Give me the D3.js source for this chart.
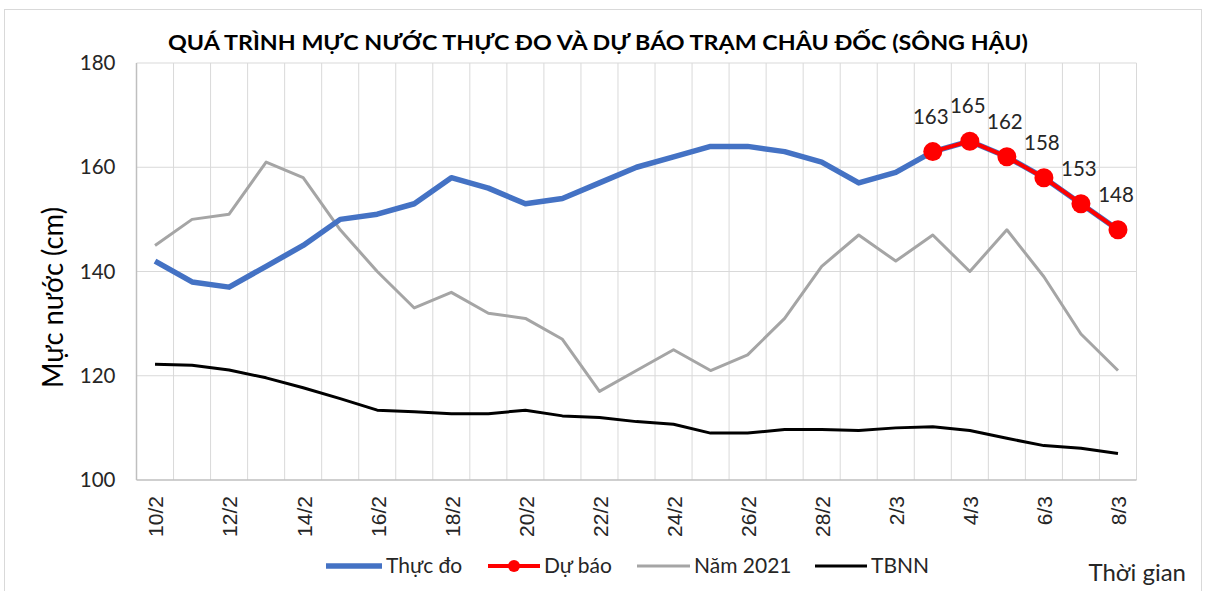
<!DOCTYPE html>
<html><head><meta charset="utf-8">
<script src="https://cdn.jsdelivr.net/npm/d3@7"></script>
<style>body{margin:0;background:#fff;}svg{display:block;font-family:Lato,"Open Sans",sans-serif;}</style>
</head><body><svg id="c" width="1207" height="591"></svg>
<script>
const dates = ["10/2","11/2","12/2","13/2","14/2","15/2","16/2","17/2","18/2","19/2","20/2","21/2","22/2","23/2","24/2","25/2","26/2","27/2","28/2","1/3","2/3","3/3","4/3","5/3","6/3","7/3","8/3"];
const thucDo = [142,138,137,141,145,150,151,153,158,156,153,154,157,160,162,164,164,163,161,157,159,163,165,162,158,153,148];
const duBao = [null,null,null,null,null,null,null,null,null,null,null,null,null,null,null,null,null,null,null,null,null,163,165,162,158,153,148];
const nam2021 = [145,150,151,161,158,148,140,133,136,132,131,127,117,121,125,121,124,131,141,147,142,147,140,148,139,128,121];
const tbnn = [122.2,122.0,121.1,119.6,117.7,115.6,113.4,113.1,112.7,112.7,113.4,112.3,112.0,111.2,110.7,109.0,109.0,109.7,109.7,109.5,110.0,110.2,109.5,108.0,106.6,106.1,105.1];
const yTicks = [100,120,140,160,180];
const title = "QUÁ TRÌNH MỰC NƯỚC THỰC ĐO VÀ DỰ BÁO TRẠM CHÂU ĐỐC (SÔNG HẬU)";
const legendNames = ["Thực đo","Dự báo","Năm 2021","TBNN"];

const svg = d3.select("#c");
const L=136.5,R=1136.5,T=63,B=480;
const x = d3.scaleBand().domain(dates).range([L,R]).padding(0);
const y = d3.scaleLinear().domain([100,180]).range([B,T]);
const cx = d => x(d)+x.bandwidth()/2;

// outer frame
svg.append("rect").attr("x",4.5).attr("y",9.5).attr("width",1197).attr("height",590).attr("fill","none").attr("stroke","#d9d9d9");

// gridlines
const g = svg.append("g");
g.selectAll(".vg").data(dates.slice(1).concat(["__end"])).join("line")
  .attr("x1",(d,i)=> i<dates.length-1 ? x(d) : R).attr("x2",(d,i)=> i<dates.length-1 ? x(d) : R)
  .attr("y1",T).attr("y2",B).attr("stroke","#d9d9d9").attr("stroke-width",1);
g.selectAll(".hg").data(yTicks.slice(1)).join("line")
  .attr("x1",L).attr("x2",R).attr("y1",d=>y(d)).attr("y2",d=>y(d)).attr("stroke","#d9d9d9");
// axes lines
svg.append("line").attr("x1",L).attr("x2",R).attr("y1",B).attr("y2",B).attr("stroke","#bfbfbf").attr("stroke-width",1.5);
svg.append("line").attr("x1",L).attr("x2",L).attr("y1",T).attr("y2",B).attr("stroke","#bfbfbf").attr("stroke-width",1.5);

// y axis
const ya = svg.append("g").attr("transform",`translate(${L},0)`).call(d3.axisLeft(y).tickValues(yTicks).tickSize(0).tickPadding(21));
ya.select(".domain").remove();
ya.selectAll("text").attr("font-size",20.5).attr("fill","#262626").attr("font-family","Lato");

// x axis
const xa = svg.append("g").attr("transform",`translate(0,${B})`).call(d3.axisBottom(x).tickValues(dates.filter((d,i)=>i%2===0)).tickSize(0));
xa.select(".domain").remove();
xa.selectAll("text").attr("font-size",21).attr("fill","#262626").attr("text-anchor","end")
  .attr("transform","rotate(-90)").attr("x",-16).attr("y",1).attr("dy","0.35em");

// titles
svg.append("text").attr("x",598).attr("y",50).attr("text-anchor","middle").attr("font-weight","bold").attr("font-size",21).attr("fill","#000").text(title)
  .attr("textLength",860).attr("lengthAdjust","spacingAndGlyphs");
svg.append("text").attr("transform","translate(53,297.5) rotate(-90)").attr("text-anchor","middle").attr("dy","0.35em").attr("font-size",28).attr("fill","#000").text("Mực nước (cm)")
  .attr("textLength",181).attr("lengthAdjust","spacingAndGlyphs");
svg.append("text").attr("x",1186).attr("y",581).attr("text-anchor","end").attr("font-size",24).attr("fill","#262626").text("Thời gian");

// lines
const line = d3.line().defined(d=>d[1]!=null).x(d=>cx(d[0])).y(d=>y(d[1]));
const ser = (arr)=>dates.map((d,i)=>[d,arr[i]]);
svg.append("path").attr("d",line(ser(nam2021))).attr("fill","none").attr("stroke","#a5a5a5").attr("stroke-width",3).attr("stroke-linejoin","round");
svg.append("path").attr("d",line(ser(tbnn))).attr("fill","none").attr("stroke","#000").attr("stroke-width",3).attr("stroke-linejoin","round");
svg.append("path").attr("d",line(ser(thucDo))).attr("fill","none").attr("stroke","#4472c4").attr("stroke-width",5.5).attr("stroke-linejoin","round");
svg.append("path").attr("d",line(ser(duBao))).attr("fill","none").attr("stroke","#ff0000").attr("stroke-width",4).attr("stroke-linejoin","round");
const fc = ser(duBao).filter(d=>d[1]!=null);
svg.selectAll(".dot").data(fc).join("circle").attr("cx",d=>cx(d[0])).attr("cy",d=>y(d[1])).attr("r",9.5).attr("fill","#ff0000");
svg.selectAll(".lbl").data(fc).join("text").attr("x",d=>cx(d[0])-2).attr("y",d=>y(d[1])-28).attr("text-anchor","middle")
  .attr("font-size",20.5).attr("fill","#262626").text(d=>d[1]);

// legend
const leg = [
 {x:326,w:56,c:"#4472c4",sw:5.5,dot:false},
 {x:488,w:52,c:"#ff0000",sw:4,dot:true},
 {x:637,w:53,c:"#a5a5a5",sw:3,dot:false},
 {x:815,w:52,c:"#000",sw:3,dot:false}];
const LY=566;
leg.forEach((l,i)=>{
  svg.append("line").attr("x1",l.x).attr("x2",l.x+l.w).attr("y1",LY).attr("y2",LY).attr("stroke",l.c).attr("stroke-width",l.sw);
  if(l.dot) svg.append("circle").attr("cx",l.x+l.w/2).attr("cy",LY).attr("r",6).attr("fill",l.c);
  svg.append("text").attr("x",l.x+l.w+4).attr("y",LY).attr("dy","0.35em").attr("font-size",21).attr("fill","#262626").text(legendNames[i]);
});
</script></body></html>
